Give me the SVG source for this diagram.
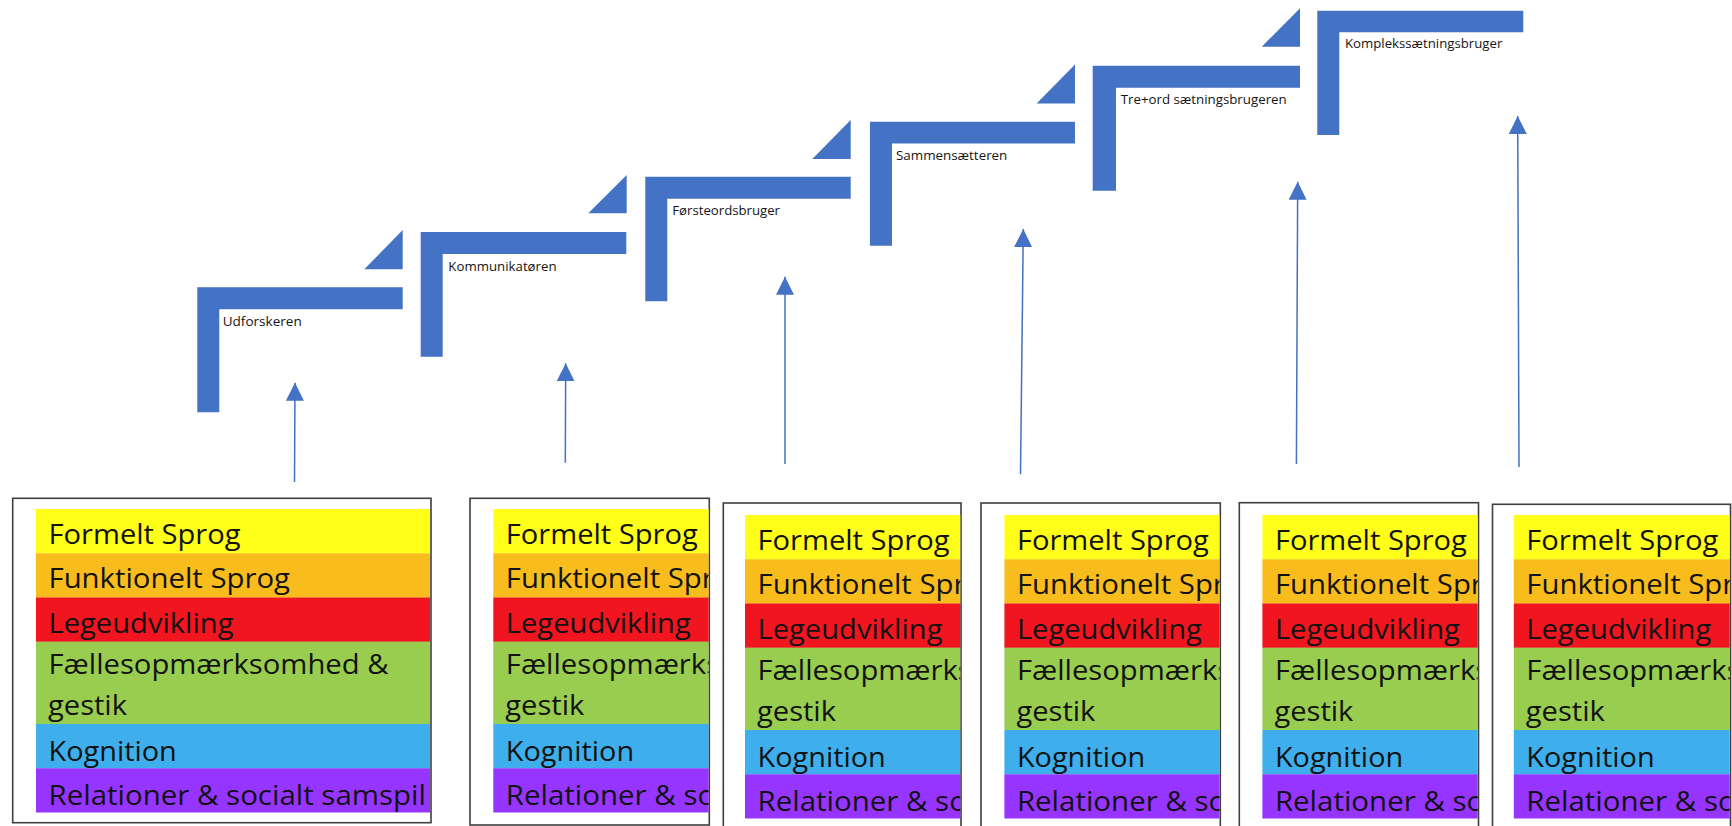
<svg xmlns="http://www.w3.org/2000/svg" width="1732" height="826" viewBox="0 0 1732 826">
<style>
.step{fill:#4472C4}
.lbl{font-family:"Open Sans","Liberation Sans",sans-serif;font-size:12.5px;fill:#141414}
.frame{fill:#fff;stroke:#3f3f3f;stroke-width:1.6}
.conn{stroke:#4472C4;stroke-width:1.5;fill:none}
.bt{font-family:"Open Sans","Liberation Sans",sans-serif;font-size:26.5px;fill:#121212}
.y{fill:#FFFF19}.o{fill:#F8BD1C}.r{fill:#F0151F}.g{fill:#98CD4F}.b{fill:#3EAFEC}.p{fill:#9635FF}
</style>
<defs>
<marker id="ah" viewBox="0 0 18 18" refX="18" refY="9" markerWidth="18" markerHeight="18" markerUnits="userSpaceOnUse" orient="auto"><path d="M0,0 L18,9 L0,18 z" fill="#4472C4"/></marker>
<clipPath id="c1"><rect x="13" y="498" width="417" height="330"/></clipPath>
<clipPath id="c2"><rect x="470" y="498" width="238.6" height="330"/></clipPath>
<clipPath id="c3"><rect x="723" y="503" width="237.3" height="330"/></clipPath>
<clipPath id="c4"><rect x="981" y="503" width="238.5" height="330"/></clipPath>
<clipPath id="c5"><rect x="1239" y="503" width="238.7" height="330"/></clipPath>
<clipPath id="c6"><rect x="1492" y="504" width="237.7" height="330"/></clipPath>
<g id="bands">
<rect class="y" x="0" y="0" width="500" height="44.5"/>
<rect class="o" x="0" y="44.3" width="500" height="44.4"/>
<rect class="r" x="0" y="88.5" width="500" height="44.4"/>
<rect class="g" x="0" y="132.7" width="500" height="82.5"/>
<rect class="b" x="0" y="215" width="500" height="44.5"/>
<rect class="p" x="0" y="259.3" width="500" height="44.2"/>
<text class="bt" x="12.5" y="35" textLength="192" lengthAdjust="spacingAndGlyphs">Formelt Sprog</text>
<text class="bt" x="12.5" y="79.3" textLength="241.5" lengthAdjust="spacingAndGlyphs">Funktionelt Sprog</text>
<text class="bt" x="12.5" y="124" textLength="185" lengthAdjust="spacingAndGlyphs">Legeudvikling</text>
<text class="bt" x="12.5" y="164.6" textLength="340" lengthAdjust="spacingAndGlyphs">Fællesopmærksomhed &amp;</text>
<text class="bt" x="12" y="206" textLength="79" lengthAdjust="spacingAndGlyphs">gestik</text>
<text class="bt" x="12.5" y="251.7" textLength="128.3" lengthAdjust="spacingAndGlyphs">Kognition</text>
<text class="bt" x="12.5" y="295.5" textLength="377.5" lengthAdjust="spacingAndGlyphs">Relationer &amp; socialt samspil</text>
</g>
</defs>

<g id="connectors">
<path class="conn" d="M294.5,482 L295,382.7" marker-end="url(#ah)"/>
<path class="conn" d="M565.3,462.7 L565.7,363.3" marker-end="url(#ah)"/>
<path class="conn" d="M785,464 L785,276.7" marker-end="url(#ah)"/>
<path class="conn" d="M1020.5,474.3 L1023.3,229" marker-end="url(#ah)"/>
<path class="conn" d="M1296.4,464 L1297.7,181.7" marker-end="url(#ah)"/>
<path class="conn" d="M1519,467 L1517.7,116" marker-end="url(#ah)"/>
</g>

<g id="step1">
<path class="step" d="M197.3,287.3 H402.7 V309.3 H219.3 V412.3 H197.3 Z"/>
<text class="lbl" x="222.7" y="326" textLength="79" lengthAdjust="spacingAndGlyphs">Udforskeren</text>
</g>
<g id="tri1"><path class="step" d="M364.3,269.3 L402.7,230 L402.7,269.3 Z"/></g>
<g id="step2">
<path class="step" d="M420.7,232 H626.3 V254 H442.7 V356.7 H420.7 Z"/>
<text class="lbl" x="448.3" y="270.7" textLength="108.3" lengthAdjust="spacingAndGlyphs">Kommunikatøren</text>
</g>
<g id="tri2"><path class="step" d="M588.3,213.3 L626.7,175 L626.7,213.3 Z"/></g>
<g id="step3">
<path class="step" d="M645.3,176.7 H850.7 V198.7 H667.3 V301.3 H645.3 Z"/>
<text class="lbl" x="672.3" y="215" textLength="107.7" lengthAdjust="spacingAndGlyphs">Førsteordsbruger</text>
</g>
<g id="tri3"><path class="step" d="M812.3,159 L850.7,120 L850.7,159 Z"/></g>
<g id="step4">
<path class="step" d="M870,121.7 H1075 V143.5 H892 V245.7 H870 Z"/>
<text class="lbl" x="896" y="160" textLength="111.3" lengthAdjust="spacingAndGlyphs">Sammensætteren</text>
</g>
<g id="tri4"><path class="step" d="M1036.6,103.5 L1075,64.5 L1075,103.5 Z"/></g>
<g id="step5">
<path class="step" d="M1092.7,65.7 H1300 V87.7 H1116 V190.7 H1092.7 Z"/>
<text class="lbl" x="1120.7" y="104.3" textLength="166" lengthAdjust="spacingAndGlyphs">Tre+ord sætningsbrugeren</text>
</g>
<g id="tri5"><path class="step" d="M1261.7,46.7 L1300,8.3 L1300,46.7 Z"/></g>
<g id="step6">
<path class="step" d="M1317.3,10.7 H1523.3 V32.3 H1339.3 V135 H1317.3 Z"/>
<text class="lbl" x="1345" y="47.7" textLength="157.3" lengthAdjust="spacingAndGlyphs">Komplekssætningsbruger</text>
</g>

<g id="box1">
<rect class="frame" x="12.7" y="498.3" width="418.3" height="324.4"/>
<g clip-path="url(#c1)"><use href="#bands" transform="translate(36,509)"/></g>
</g>
<g id="box2">
<rect class="frame" x="470" y="498.3" width="239.3" height="326.7"/>
<g clip-path="url(#c2)"><use href="#bands" transform="translate(493.3,509)"/></g>
</g>
<g id="box3">
<rect class="frame" x="723.3" y="503" width="237.7" height="340"/>
<g clip-path="url(#c3)"><use href="#bands" transform="translate(745,515)"/></g>
</g>
<g id="box4">
<rect class="frame" x="981" y="503" width="239.3" height="340"/>
<g clip-path="url(#c4)"><use href="#bands" transform="translate(1004.4,515)"/></g>
</g>
<g id="box5">
<rect class="frame" x="1239.3" y="502.7" width="239.2" height="340"/>
<g clip-path="url(#c5)"><use href="#bands" transform="translate(1262.4,515)"/></g>
</g>
<g id="box6">
<rect class="frame" x="1492.5" y="504.3" width="238" height="340"/>
<g clip-path="url(#c6)"><use href="#bands" transform="translate(1513.8,515)"/></g>
</g>
</svg>
